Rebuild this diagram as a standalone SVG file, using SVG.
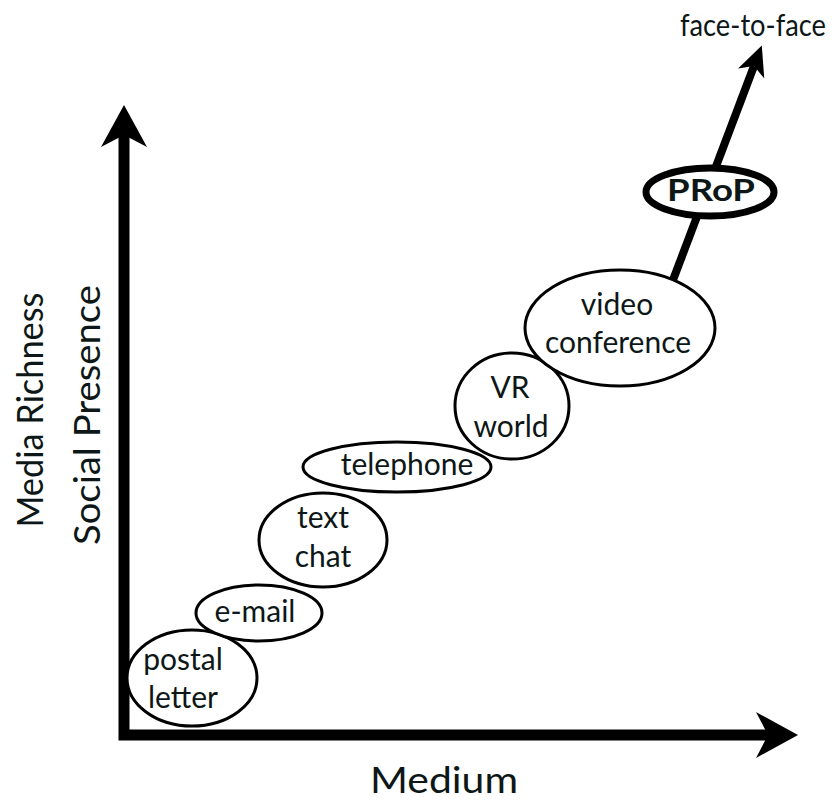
<svg xmlns="http://www.w3.org/2000/svg" width="840" height="801" viewBox="0 0 840 801">
<style>
  .lbl { font-family: Lato, "Open Sans", "Liberation Sans", sans-serif; font-size: 30px; fill: #0d1717; text-anchor: middle; }
  .axis-lbl { font-family: Lato, "Open Sans", "Liberation Sans", sans-serif; font-size: 36px; fill: #0d1717; text-anchor: middle; }
  .node { fill: #ffffff; stroke: #000000; stroke-width: 3; }
  .node-bold { fill: #ffffff; stroke: #000000; stroke-width: 7; }
</style>
<defs>
  <marker id="bigHead" markerUnits="userSpaceOnUse" markerWidth="42" markerHeight="46" viewBox="0 0 42 46" refX="12" refY="23" orient="auto-start-reverse">
    <path d="M0,0 L42,23 L0,46 L12,23 Z" fill="#000000"/>
  </marker>
  <marker id="smallHead" markerUnits="userSpaceOnUse" markerWidth="30" markerHeight="28" viewBox="0 0 30 28" refX="8" refY="14" orient="auto">
    <path d="M0,0 L30,14 L0,28 L8,14 Z" fill="#000000"/>
  </marker>
</defs>
<rect width="840" height="801" fill="#ffffff"/>

<g id="axes">
  <path d="M124,135 L124,735 L768,735" fill="none" stroke="#000000" stroke-width="11" stroke-linejoin="miter" marker-start="url(#bigHead)" marker-end="url(#bigHead)"/>
  <text class="axis-lbl" transform="translate(43,410) rotate(-90)" font-size="37" textLength="235" lengthAdjust="spacingAndGlyphs">Media Richness</text>
  <text class="axis-lbl" transform="translate(100,415) rotate(-90)" font-size="37" textLength="260" lengthAdjust="spacingAndGlyphs">Social Presence</text>
  <text class="axis-lbl" x="444" y="793" font-size="38" textLength="148" lengthAdjust="spacingAndGlyphs">Medium</text>
</g>

<g id="connectors">
  <line x1="673" y1="280" x2="754" y2="66" stroke="#000000" stroke-width="8" marker-end="url(#smallHead)"/>
</g>

<g id="node-postal-letter">
  <ellipse class="node" cx="192" cy="678" rx="65" ry="48"/>
  <text class="lbl" x="183" y="670">postal</text>
  <text class="lbl" x="183" y="708">letter</text>
</g>

<g id="node-e-mail">
  <ellipse class="node" cx="259" cy="613" rx="63" ry="28"/>
  <text class="lbl" x="255" y="622">e-mail</text>
</g>

<g id="node-text-chat">
  <ellipse class="node" cx="323" cy="540" rx="64" ry="47"/>
  <text class="lbl" x="323" y="528">text</text>
  <text class="lbl" x="323" y="567">chat</text>
</g>

<g id="node-telephone">
  <ellipse class="node" cx="397" cy="467" rx="94" ry="25"/>
  <text class="lbl" x="407" y="475">telephone</text>
</g>

<g id="node-vr-world">
  <ellipse class="node" cx="512" cy="406" rx="57" ry="53"/>
  <text class="lbl" x="510" y="398">VR</text>
  <text class="lbl" x="511" y="437">world</text>
</g>

<g id="node-video-conference">
  <ellipse class="node" cx="620" cy="328" rx="95" ry="58"/>
  <text class="lbl" x="617" y="315">video</text>
  <text class="lbl" x="618" y="353">conference</text>
</g>

<g id="node-prop">
  <ellipse class="node-bold" cx="710" cy="192" rx="64" ry="24"/>
  <text class="lbl" x="711" y="201" font-weight="bold" font-size="28" textLength="88" lengthAdjust="spacingAndGlyphs">PRoP</text>
</g>

<g id="node-face-to-face">
  <text class="lbl" x="753" y="36" font-size="28" textLength="146" lengthAdjust="spacingAndGlyphs">face-to-face</text>
</g>
</svg>
